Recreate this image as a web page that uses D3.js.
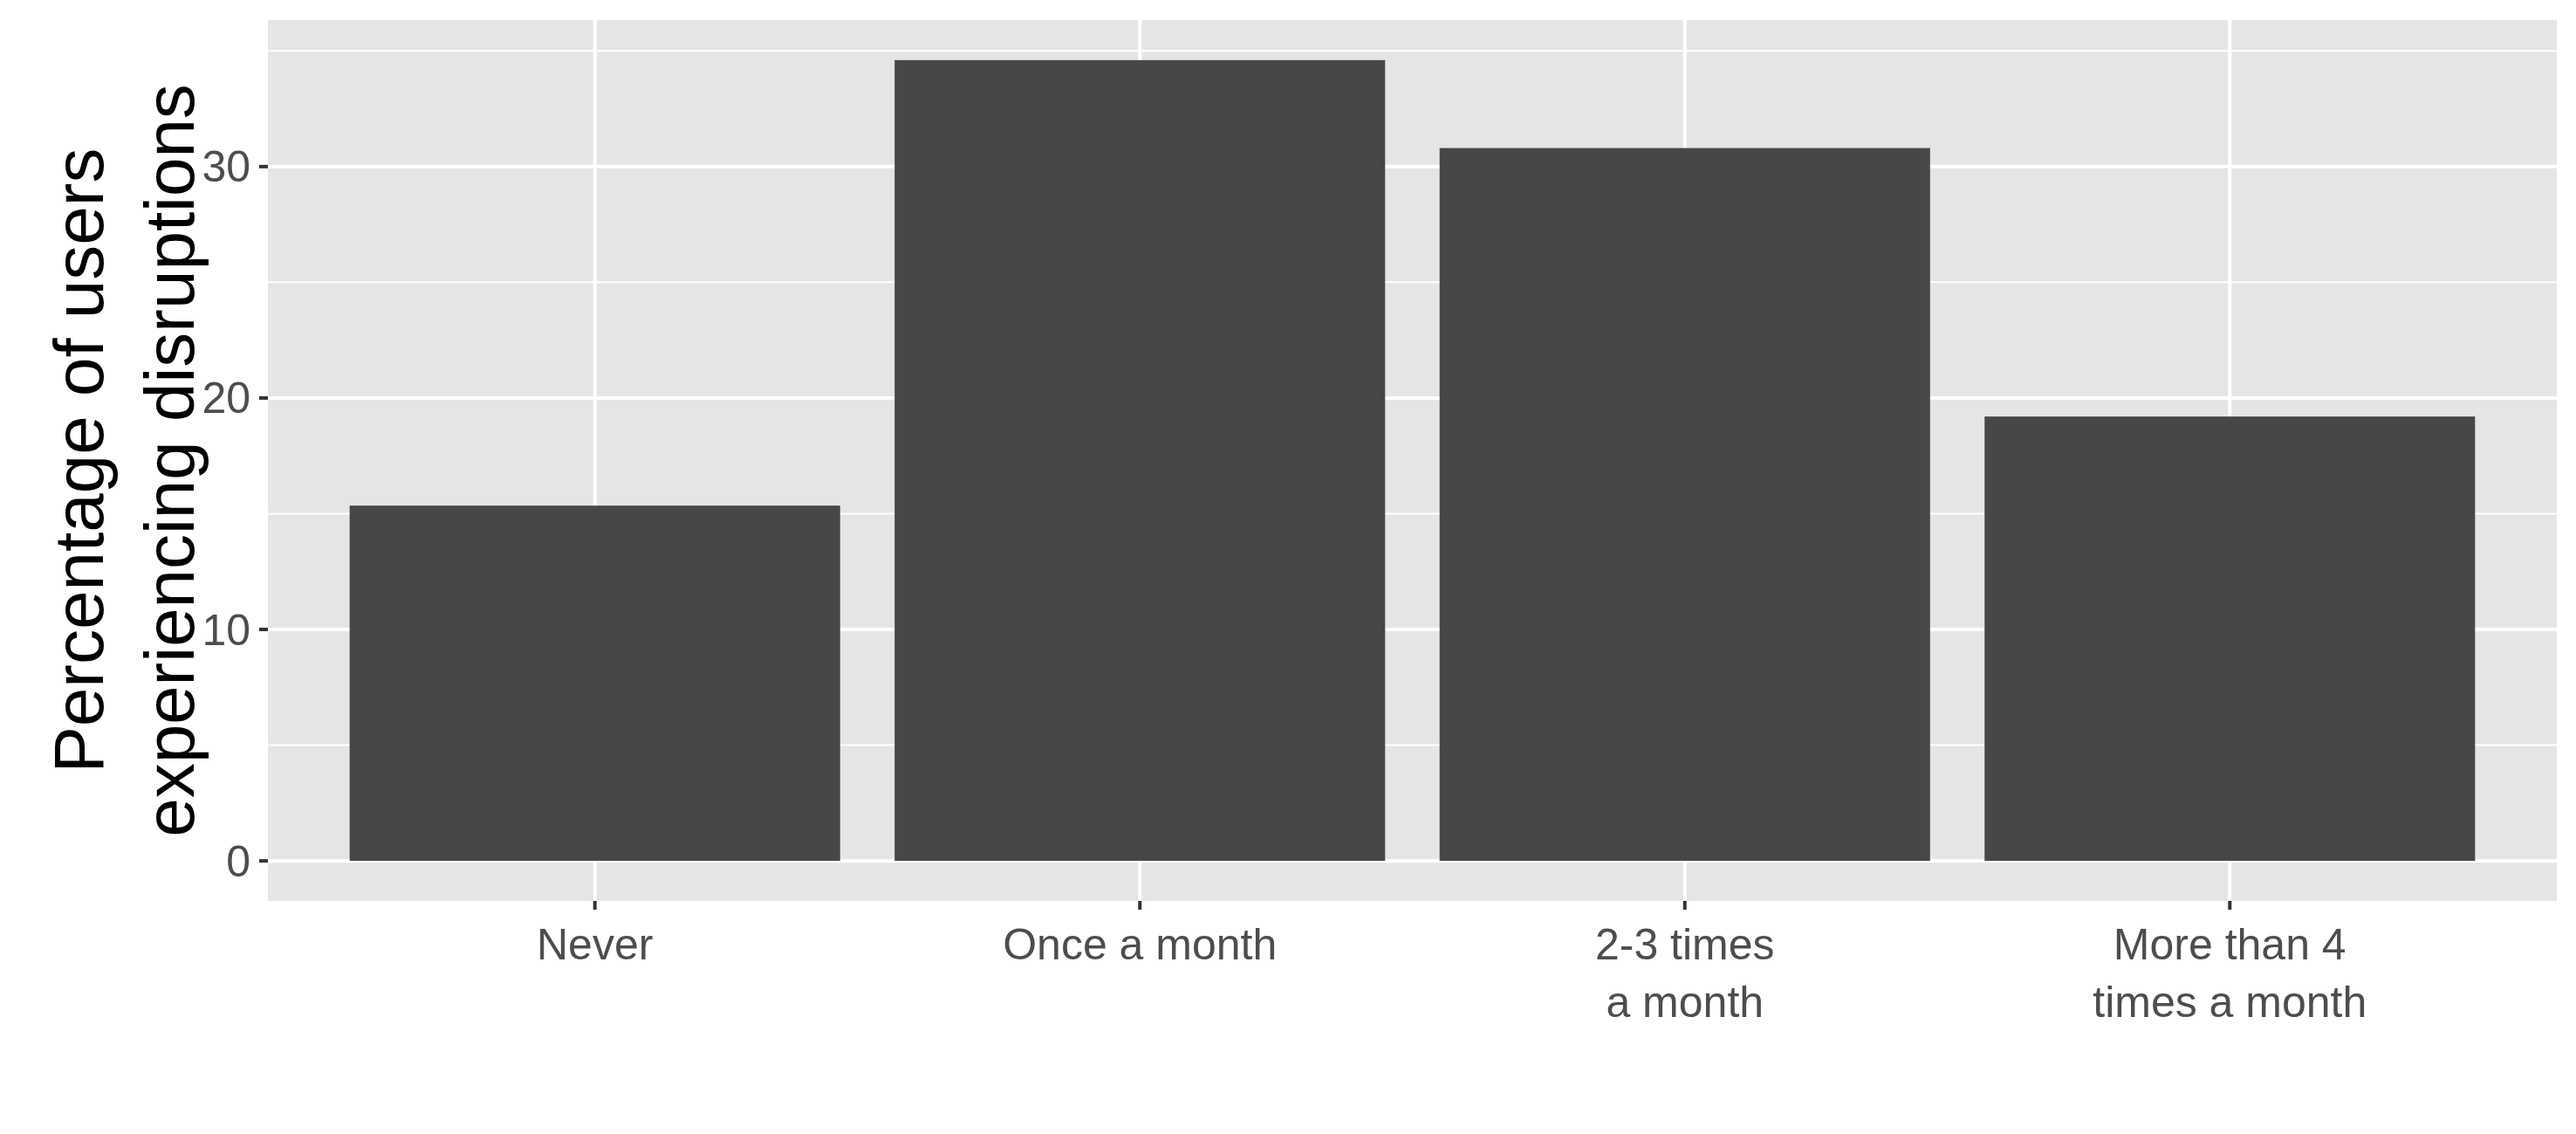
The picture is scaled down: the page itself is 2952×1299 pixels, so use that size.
<!DOCTYPE html>
<html><head><meta charset="utf-8">
<script src="https://cdn.jsdelivr.net/npm/d3@7"></script>
<style>body{margin:0;background:#fff}text{font-family:"Liberation Sans",Arial,sans-serif}</style>
</head><body><svg id="chart" width="2952" height="1299"></svg>
<script>
const categories = [["Never"], ["Once a month"], ["2-3 times", "a month"], ["More than 4", "times a month"]];
const values = [15.35, 34.6, 30.8, 19.2];
const yTicks = [0, 10, 20, 30];

const svg = d3.select("#chart");
const L = 307, R = 2930, T = 23, B = 1032;
const ymax = d3.max(values);
const y = d3.scaleLinear().domain([-ymax * 0.05, ymax * 1.05]).range([B, T]);
const x = d3.scaleBand().domain(d3.range(values.length)).range([L, R]).paddingInner(0.1).paddingOuter(0.6 * 0.1 / 0.1 * 0.05 + 0.1);
// ggplot style: discrete expansion of 0.6 units on each side
const step = (R - L) / (values.length - 1 + 1.2);
const cx = i => L + step * (0.6 + i);
const bw = step * 0.9;

svg.append("rect").attr("x", L).attr("y", T).attr("width", R - L).attr("height", B - T).attr("fill", "#e5e5e5");

const minor = d3.range(5, 36, 10);
svg.selectAll(".minor").data(minor).enter().append("line")
  .attr("x1", L).attr("x2", R).attr("y1", d => y(d)).attr("y2", d => y(d))
  .attr("stroke", "#fff").attr("stroke-width", 2);
svg.selectAll(".major").data(yTicks).enter().append("line")
  .attr("x1", L).attr("x2", R).attr("y1", d => y(d)).attr("y2", d => y(d))
  .attr("stroke", "#fff").attr("stroke-width", 4);
svg.selectAll(".vmajor").data(values).enter().append("line")
  .attr("x1", (d, i) => cx(i)).attr("x2", (d, i) => cx(i)).attr("y1", T).attr("y2", B)
  .attr("stroke", "#fff").attr("stroke-width", 4);

svg.selectAll(".bar").data(values).enter().append("rect")
  .attr("x", (d, i) => cx(i) - bw / 2).attr("width", bw)
  .attr("y", d => y(d)).attr("height", d => y(0) - y(d))
  .attr("fill", "#474747");

// y axis
svg.selectAll(".yt").data(yTicks).enter().append("line")
  .attr("x1", L - 10).attr("x2", L).attr("y1", d => y(d)).attr("y2", d => y(d))
  .attr("stroke", "#333").attr("stroke-width", 4);
svg.selectAll(".yl").data(yTicks).enter().append("text")
  .attr("x", L - 20).attr("y", d => y(d)).attr("dy", "0.35em")
  .attr("text-anchor", "end").attr("font-size", 50).attr("fill", "#4d4d4d").text(d => d);

// x axis
svg.selectAll(".xt").data(values).enter().append("line")
  .attr("x1", (d, i) => cx(i)).attr("x2", (d, i) => cx(i)).attr("y1", B).attr("y2", B + 10)
  .attr("stroke", "#333").attr("stroke-width", 4);
const xl = svg.selectAll(".xl").data(categories).enter().append("text")
  .attr("text-anchor", "middle").attr("font-size", 50).attr("fill", "#4d4d4d");
xl.selectAll("tspan").data((d, i) => d.map(s => [s, i])).enter().append("tspan")
  .attr("x", d => cx(d[1])).attr("y", (d, j) => 1099 + j * 66).text(d => d[0]);

// y title
const tt = svg.append("text").attr("transform", `translate(0,${(T + B) / 2}) rotate(-90)`)
  .attr("text-anchor", "middle").attr("font-size", 80).attr("fill", "#000");
tt.append("tspan").attr("x", 0).attr("y", 118).text("Percentage of users");
tt.append("tspan").attr("x", 0).attr("y", 222).text("experiencing disruptions");
</script></body></html>
